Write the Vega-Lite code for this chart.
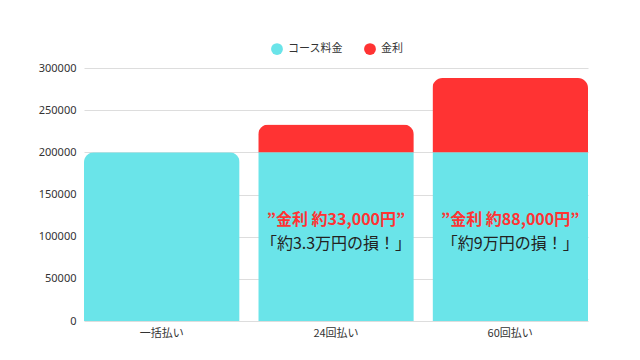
{
  "$schema": "https://vega.github.io/schema/vega-lite/v6.json",
  "width": 504,
  "height": 253,
  "padding": {"left": 38, "top": 42, "right": 50, "bottom": 10},
  "background": "white",
  "config": {
    "view": {"stroke": null},
    "font": "Noto Sans CJK JP",
    "legend": {"layout": {"top": {"anchor": "middle"}}}
  },
  "datasets": {
    "bars": [
      {"plan": "一括払い", "type": "コース料金", "value": 200000},
      {"plan": "24回払い", "type": "コース料金", "value": 200000},
      {"plan": "24回払い", "type": "金利", "value": 33000},
      {"plan": "60回払い", "type": "コース料金", "value": 200000},
      {"plan": "60回払い", "type": "金利", "value": 88000}
    ],
    "red": [
      {"plan": "24回払い", "y": 120000, "label": "”金利 約33,000円”"},
      {"plan": "60回払い", "y": 120000, "label": "”金利 約88,000円”"}
    ],
    "black": [
      {"plan": "24回払い", "y": 91500, "label": "「約3.3万円の損！」"},
      {"plan": "60回払い", "y": 91500, "label": "「約9万円の損！」"}
    ]
  },
  "layer": [
    {
      "data": {"name": "bars"},
      "mark": {"type": "bar", "cornerRadiusTopLeft": 10, "cornerRadiusTopRight": 10},
      "encoding": {
        "x": {
          "field": "plan", "type": "nominal",
          "sort": ["一括払い", "24回払い", "60回払い"],
          "scale": {"paddingInner": 0.107, "paddingOuter": 0},
          "axis": {"title": null, "labelAngle": 0, "domain": false, "ticks": false, "labelFontSize": 11, "labelColor": "#333333", "labelPadding": 6}
        },
        "y": {
          "field": "value", "type": "quantitative", "stack": "zero",
          "scale": {"domain": [0, 300000]},
          "axis": {"title": null, "tickCount": 6, "domain": false, "ticks": false, "labelFontSize": 11, "labelColor": "#333333", "labelFont": "Noto Sans", "labelPadding": 8, "gridColor": "#dddddd", "format": "d"}
        },
        "color": {
          "field": "type", "type": "nominal",
          "scale": {"domain": ["コース料金", "金利"], "range": ["#6ae4e9", "#ff3333"]},
          "legend": {"title": null, "orient": "top", "direction": "horizontal", "symbolType": "circle", "symbolSize": 140, "labelFontSize": 11, "labelColor": "#333333", "columnPadding": 20, "offset": 13}
        },
        "order": {"field": "type", "sort": "ascending"}
      }
    },
    {
      "data": {"name": "red"},
      "mark": {"type": "text", "fontSize": 16, "fontWeight": "bold", "baseline": "middle", "color": "#ff3333", "font": "Noto Sans CJK JP"},
      "encoding": {
        "x": {"field": "plan", "type": "nominal", "sort": ["一括払い", "24回払い", "60回払い"]},
        "y": {"field": "y", "type": "quantitative"},
        "text": {"field": "label"}
      }
    },
    {
      "data": {"name": "black"},
      "mark": {"type": "text", "fontSize": 16, "baseline": "middle", "color": "#222222", "font": "Noto Sans CJK JP"},
      "encoding": {
        "x": {"field": "plan", "type": "nominal", "sort": ["一括払い", "24回払い", "60回払い"]},
        "y": {"field": "y", "type": "quantitative"},
        "text": {"field": "label"}
      }
    }
  ]
}
